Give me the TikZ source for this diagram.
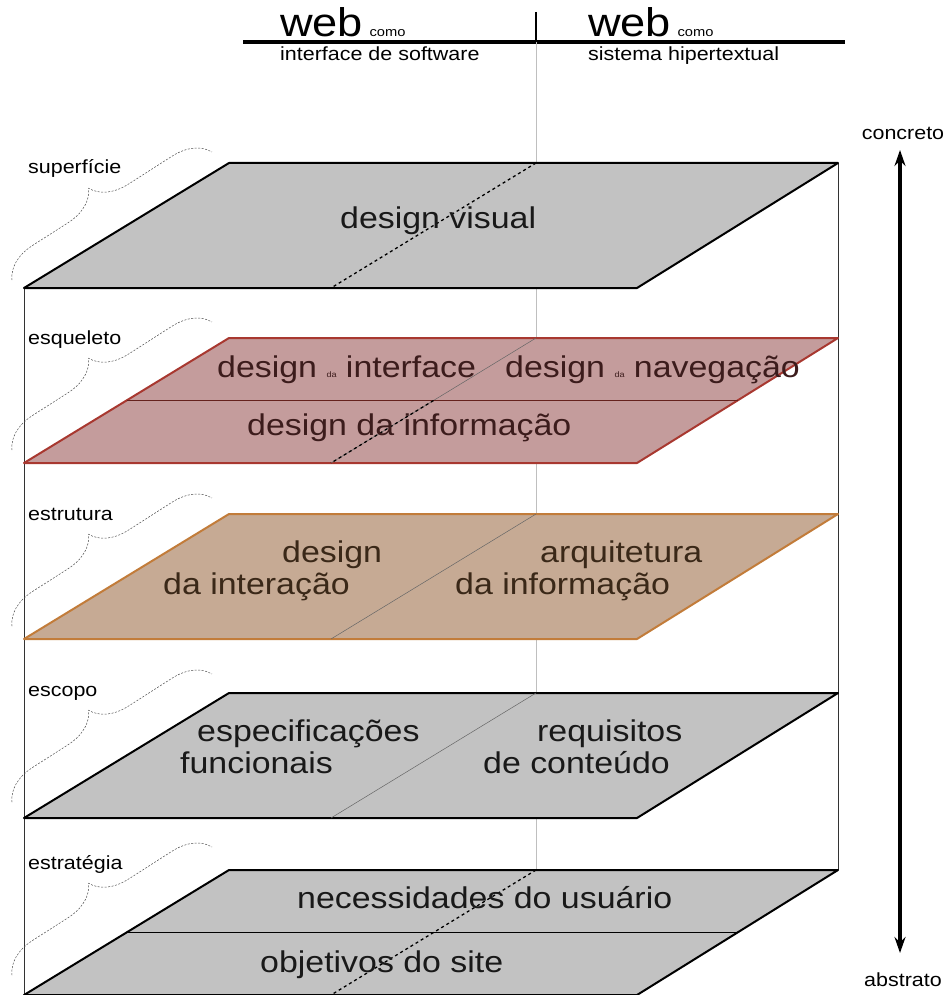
\documentclass[tikz,border=0pt]{standalone}
\usepackage{fontspec}
\setmainfont[FakeStretch=1.13]{Liberation Sans}
\usetikzlibrary{arrows.meta,decorations.pathreplacing}
\definecolor{cinza}{HTML}{C2C2C2}
\definecolor{rosa}{HTML}{C49C9C}
\definecolor{rosaborda}{HTML}{A83830}
\definecolor{rosatexto}{HTML}{3C1C1C}
\definecolor{bege}{HTML}{C6AA94}
\definecolor{begeborda}{HTML}{C27C3A}
\definecolor{begetexto}{HTML}{3A2818}
\newcommand{\da}{{\fontsize{8}{8}\selectfont da}}

\begin{document}
\begin{tikzpicture}[x=1pt,y=-1pt,
  camada/.style={line width=2pt,line join=round},
  divisao/.style={line width=0.5pt,draw=black!60},
  tracejada/.style={line width=1.3pt,dash pattern=on 3pt off 3pt},
  grande/.style={anchor=base west,inner sep=0pt,text=black!90,font=\fontsize{30}{30}\selectfont},
  pequeno/.style={anchor=base west,inner sep=0pt,font=\fontsize{19}{19}\selectfont},
  chave/.style={decorate,decoration={brace,amplitude=36pt,aspect=0.48},
    draw=black!70,line width=0.5pt,dash pattern=on 2pt off 1.5pt}]
  \useasboundingbox (0,0) rectangle (946,995);

  % cabecalho
  \coordinate (cab-e) at (243,42);
  \coordinate (cab-d) at (845,42);
  \coordinate (cab-t) at (536,12);
  \coordinate (cab-b) at (536,42);
  \draw[line width=3.5pt] (cab-e) -- (cab-d);
  \draw[line width=2.5pt] (cab-t) -- (cab-b);
  \node[anchor=base west,inner sep=0pt,font=\fontsize{40}{40}\selectfont] (web1) at (280,37) {web};
  \node[pequeno,font=\fontsize{13}{13}\selectfont] (como1) at ([xshift=6pt]web1.base east) {como};
  \node[pequeno] (sub1) at (280,61) {interface de software};
  \node[anchor=base west,inner sep=0pt,font=\fontsize{40}{40}\selectfont] (web2) at (588,37) {web};
  \node[pequeno,font=\fontsize{13}{13}\selectfont] (como2) at ([xshift=6pt]web2.base east) {como};
  \node[pequeno] (sub2) at (588,61) {sistema hipertextual};

  % caixa
  \coordinate (e-topo) at (24,288);
  \coordinate (e-base) at (24,995);
  \coordinate (d-topo) at (838,163);
  \coordinate (d-base) at (838,870);
  \coordinate (m-base) at (536,870);
  \draw[line width=0.8pt,black!80] (e-topo) -- (e-base);
  \draw[line width=0.8pt,black!80] (d-topo) -- (d-base);
  \draw[line width=0.6pt,black!25] (cab-b) -- (m-base);

  % planos
  \foreach \n/\y/\cor/\borda/\linha in {1/163/cinza/black/tracejada,
      2/338/rosa/rosaborda/divisao, 3/514/bege/begeborda/divisao,
      4/693/cinza/black/divisao, 5/870/cinza/black/tracejada}{
    \coordinate (c\n-a) at (229,\y);
    \coordinate (c\n-b) at (838,\y);
    \coordinate (c\n-c) at (637,\y+125);
    \coordinate (c\n-d) at (24,\y+125);
    \coordinate (c\n-m) at (536,\y);
    \coordinate (c\n-n) at (331,\y+125);
    \filldraw[camada,fill=\cor,draw=\borda] (c\n-a) -- (c\n-b) -- (c\n-c) -- (c\n-d) -- cycle;
    \draw[\linha] (c\n-m) -- (c\n-n);
  }
  \coordinate (c2-e) at (126.5,400.5);
  \coordinate (c2-f) at (737.5,400.5);
  \coordinate (c2-x) at (433.5,400.5);
  \coordinate (c5-e) at (126.5,932.5);
  \coordinate (c5-f) at (737.5,932.5);
  \draw[line width=0.6pt,rosaborda!60!black] (c2-e) -- (c2-f);
  \draw[tracejada] (c2-x) -- (c2-n);
  \draw[line width=1.2pt] (c5-e) -- (c5-f);

  % rotulos e chaves
  \foreach \n/\nome/\yb in {1/superfície/174, 2/esqueleto/344, 3/estrutura/520,
      4/escopo/696, 5/estratégia/869}{
    \node[pequeno] (r\n) at (28,\yb) {\nome};
    \draw[chave] (12,\yb+106) -- (212,\yb-22);
  }

  % textos dos planos
  \node[grande] (visual) at (340,228) {design visual};
  \node[grande,text=rosatexto] (interface) at (217,377) {design \da\ interface};
  \node[grande,text=rosatexto] (navegacao) at (505,377) {design \da\ navegação};
  \node[grande,text=rosatexto] (informacao) at (247,435) {design da informação};
  \node[grande,text=begetexto] (interacao1) at (282,562) {design};
  \node[grande,text=begetexto] (interacao2) at (163,594) {da interação};
  \node[grande,text=begetexto] (arquitetura1) at (540,562) {arquitetura};
  \node[grande,text=begetexto] (arquitetura2) at (455,594) {da informação};
  \node[grande] (especif) at (197,741) {especificações};
  \node[grande] (funcionais) at (180,773) {funcionais};
  \node[grande] (requisitos) at (537,741) {requisitos};
  \node[grande] (conteudo) at (483,773) {de conteúdo};
  \node[grande] (usuario) at (297,908) {necessidades do usuário};
  \node[grande] (objetivos) at (260,972) {objetivos do site};

  % eixo concreto-abstrato
  \node[pequeno,anchor=base] (concreto) at (903,140) {concreto};
  \node[pequeno,anchor=base] (abstrato) at (903,986) {abstrato};
  \coordinate (seta-t) at (900,150);
  \coordinate (seta-b) at (900,953);
  \draw[line width=4pt,{Stealth[length=16pt,width=11pt]}-{Stealth[length=16pt,width=11pt]}] (seta-t) -- (seta-b);
\end{tikzpicture}
\end{document}
